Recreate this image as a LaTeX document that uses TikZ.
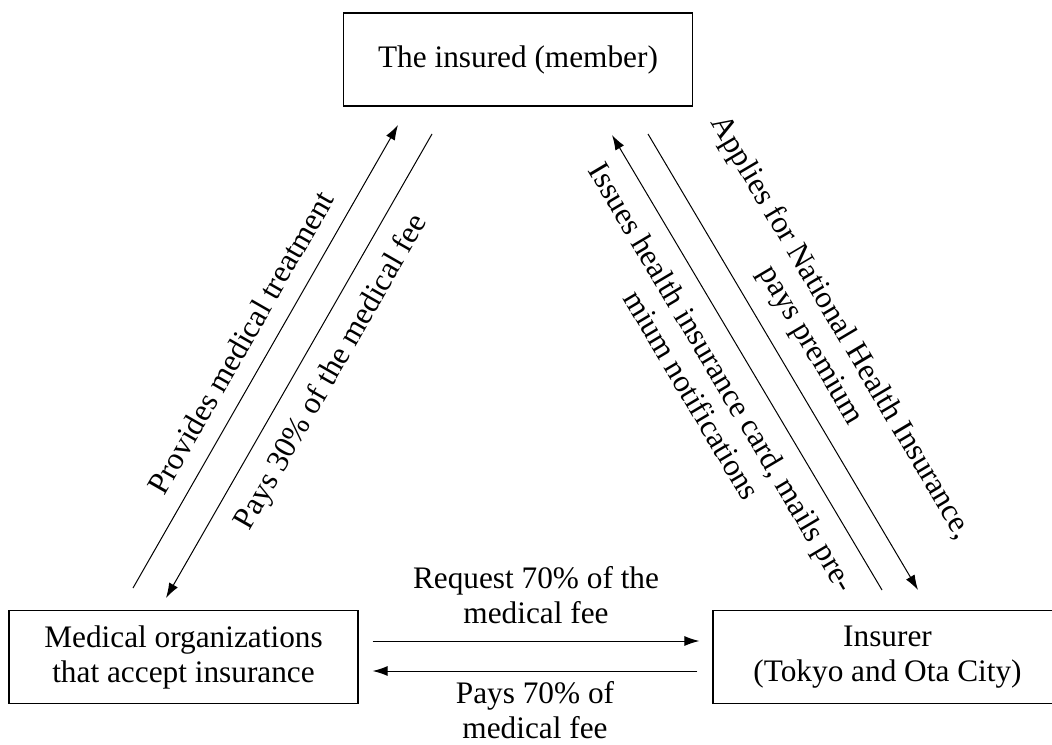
\documentclass[tikz,border=0pt]{standalone}
\usepackage{fontspec}
\setmainfont{Liberation Serif}
\usetikzlibrary{arrows.meta}

\begin{document}
\begin{tikzpicture}[x=0.5pt, y=0.5pt,
  every node/.style={font=\fontsize{15.65pt}{17.5pt}\selectfont},
  party/.style={draw, line width=0.65pt, minimum width=174.5pt, minimum height=46.5pt, align=center, inner sep=0pt},
  flow/.style={line width=0.5pt, -{Latex[length=7.5pt, width=5pt]}},
  tag/.style={align=center, sloped, inner sep=8.5pt}]

\useasboundingbox (0,0) rectangle (1052,744);

\node[party] (insured) at (518,684.5) {The insured (member)};
\node[party] (medical) at (183.5,87) {Medical organizations\\that accept insurance};
\node[party] (insurer) at (887.5,87) {Insurer\\(Tokyo and Ota City)};

\coordinate (provA) at (133,156);
\coordinate (provB) at (398,619);
\coordinate (payA) at (432,610);
\coordinate (payB) at (166,146);
\coordinate (issA) at (882,154);
\coordinate (issB) at (612,609);
\coordinate (appA) at (648,610);
\coordinate (appB) at (918,154);

\draw[flow] (provA) -- (provB) node[tag, midway, above] {Provides medical treatment};
\draw[flow] (payA) -- (payB) node[tag, pos=0.48, below] {Pays 30\% of the medical fee};
\draw[flow] (issA) -- (issB) node[tag, midway, below] {Issues health insurance card, mails pre-\\mium notifications};
\draw[flow] (appA) -- (appB) node[tag, midway, above] {Applies for National Health Insurance,\\pays premium};

\draw[flow] ([xshift=7pt, yshift=8pt]medical.east) -- ([xshift=-6.5pt, yshift=8pt]insurer.west)
  node[midway, above, align=center, inner sep=8.5pt] {Request 70\% of the\\medical fee};
\draw[flow] ([xshift=-7.5pt, yshift=-7pt]insurer.west) -- ([xshift=7pt, yshift=-7pt]medical.east)
  node[midway, below, align=center, inner sep=5pt] {Pays 70\% of\\medical fee};

\end{tikzpicture}
\end{document}
